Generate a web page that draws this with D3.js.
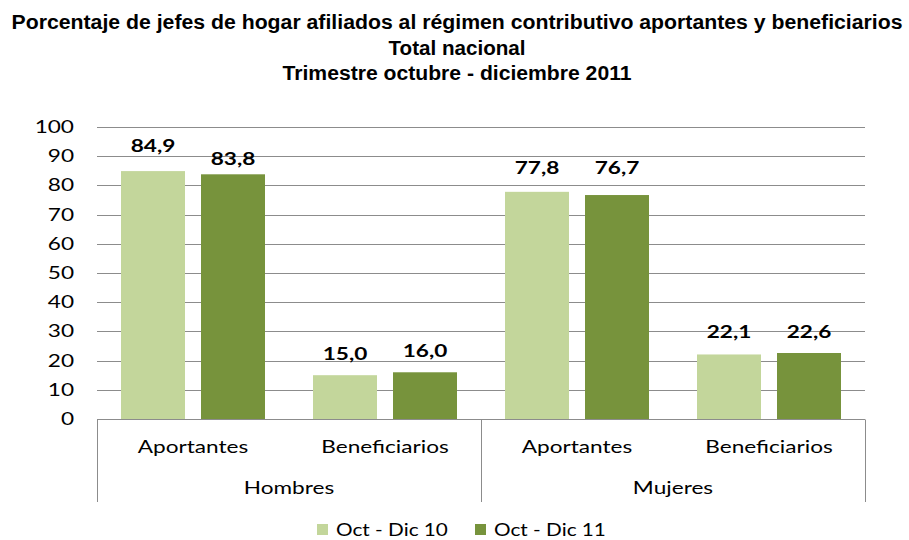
<!DOCTYPE html>
<html>
<head>
<meta charset="utf-8">
<script src="https://cdn.jsdelivr.net/npm/d3@7"></script>
<style>
  body { margin: 0; background: #fff; }
  svg text { font-family: Lato, "Open Sans", sans-serif; fill: #000; }
</style>
</head>
<body>
<div class="container"></div>
<script>
// datos
const grupos = ["Hombres", "Mujeres"]
const categorias = ["Aportantes", "Beneficiarios"]
const series = ["Oct - Dic 10", "Oct - Dic 11"]
const valores10 = [84.9, 15.0, 77.8, 22.1]
const valores11 = [83.8, 16.0, 76.7, 22.6]
const yTicks = [0, 10, 20, 30, 40, 50, 60, 70, 80, 90, 100]
const titulo = [
  "Porcentaje de jefes de hogar afiliados al régimen contributivo aportantes y beneficiarios",
  "Total nacional",
  "Trimestre octubre - diciembre 2011"
]
const colores = ["#C3D69B", "#77933C"]

// separacion de etiquetas sobre la barra (movidas a mano en el original)
const sep10 = [19, 15, 18, 16]
const sep11 = [9, 15, 21, 15]

const width = 909
const height = 540
const margin = { top: 127, bottom: 121, left: 97, right: 44 }
const estirar = 1.33   // el original esta estirado en horizontal

const svg = d3.select(".container").append("svg").attr("width", width).attr("height", height)

// titulo
svg.append("g").attr("id", "titleGroup").selectAll("text").data(titulo)
  .join("text")
  .attr("x", 457)
  .attr("y", (d, i) => [29, 55, 80][i])
  .attr("text-anchor", "middle")
  .style("font-family", "'Liberation Sans', Arial, sans-serif")
  .style("font-size", "20px")
  .style("font-weight", 700)
  .attr("textLength", (d, i) => [891, 137, 349][i])
  .attr("lengthAdjust", "spacingAndGlyphs")
  .text(d => d)

// texto estirado
function texto(g, x, y, t, ancla, size, sx) {
  return g.append("text")
    .attr("transform", `translate(${x},${y}) scale(${sx || estirar},1)`)
    .attr("text-anchor", ancla)
    .style("font-size", size + "px")
    .text(t)
}

// escalas
const claves = []
grupos.forEach(g => categorias.forEach(c => claves.push(g + "|" + c)))

const x = d3.scaleBand().domain(claves).range([margin.left, width - margin.right]).padding(0)
const xSerie = d3.scaleBand().domain(series).range([0, x.bandwidth()]).paddingInner(0.2).paddingOuter(0.3)
const y = d3.scaleLinear().domain([0, 100]).range([height - margin.bottom, margin.top])

// rejilla
const gridGroup = svg.append("g").attr("id", "gridGroup")
gridGroup.selectAll("line").data(yTicks.filter(d => d > 0))
  .join("line")
  .attr("x1", margin.left).attr("x2", width - margin.right)
  .attr("y1", d => Math.round(y(d)) + 0.5).attr("y2", d => Math.round(y(d)) + 0.5)
  .attr("stroke", "#8c8c8c").attr("stroke-width", 1)

// eje y
const yAxisGroup = svg.append("g").attr("id", "yAxisGroup")
yTicks.forEach(t => texto(yAxisGroup, margin.left - 23, y(t) + 6, t, "end", 17))

// barras
const filas = claves.map((k, i) => ({ key: k, valores: [valores10[i], valores11[i]], sep: [sep10[i], sep11[i]] }))
const elementGroup = svg.append("g").attr("id", "elementGroup")
const catG = elementGroup.selectAll("g").data(filas).join("g")
  .attr("transform", d => `translate(${x(d.key)},0)`)

catG.selectAll("rect").data(d => d.valores.map((v, i) => ({ serie: series[i], v, i })))
  .join("rect")
  .attr("x", d => xSerie(d.serie))
  .attr("width", xSerie.bandwidth())
  .attr("y", d => y(d.v))
  .attr("height", d => y(0) - y(d.v))
  .attr("fill", d => colores[d.i])

catG.each(function (d) {
  const g = d3.select(this)
  d.valores.forEach((v, i) => {
    texto(g, xSerie(series[i]) + xSerie.bandwidth() / 2, y(v) - d.sep[i],
      d3.format(".1f")(v).replace(".", ","), "middle", 17)
      .style("font-weight", 700)
  })
})

// eje x (dos niveles)
const axisGroup = svg.append("g").attr("id", "axisGroup")
const y0 = Math.round(y(0)) + 0.5
const yFondo = 502
axisGroup.append("line")
  .attr("x1", margin.left).attr("x2", width - margin.right)
  .attr("y1", y0).attr("y2", y0)
  .attr("stroke", "#8c8c8c")
const divisiones = [margin.left, x(grupos[1] + "|" + categorias[0]), width - margin.right]
axisGroup.selectAll("line.div").data(divisiones).join("line")
  .attr("class", "div")
  .attr("x1", d => Math.round(d) + 0.5).attr("x2", d => Math.round(d) + 0.5)
  .attr("y1", y0).attr("y2", yFondo)
  .attr("stroke", "#8c8c8c")

claves.forEach(k => {
  texto(axisGroup, x(k) + x.bandwidth() / 2, 453, k.split("|")[1], "middle", 17).attr("fill", "#222")
})
grupos.forEach(g => {
  texto(axisGroup, x(g + "|" + categorias[0]) + x.bandwidth(), 494, g, "middle", 17).attr("fill", "#222")
})

// leyenda
const leyenda = svg.append("g").attr("id", "legendGroup")
const legX = [317, 475]
series.forEach((s, i) => {
  const item = leyenda.append("g").attr("transform", `translate(${legX[i]},524)`)
  item.append("rect").attr("width", 11).attr("height", 11).attr("fill", colores[i])
  texto(item, 19, 12, s, "start", 17, 1.22).attr("fill", "#222")
})
</script>
</body>
</html>
